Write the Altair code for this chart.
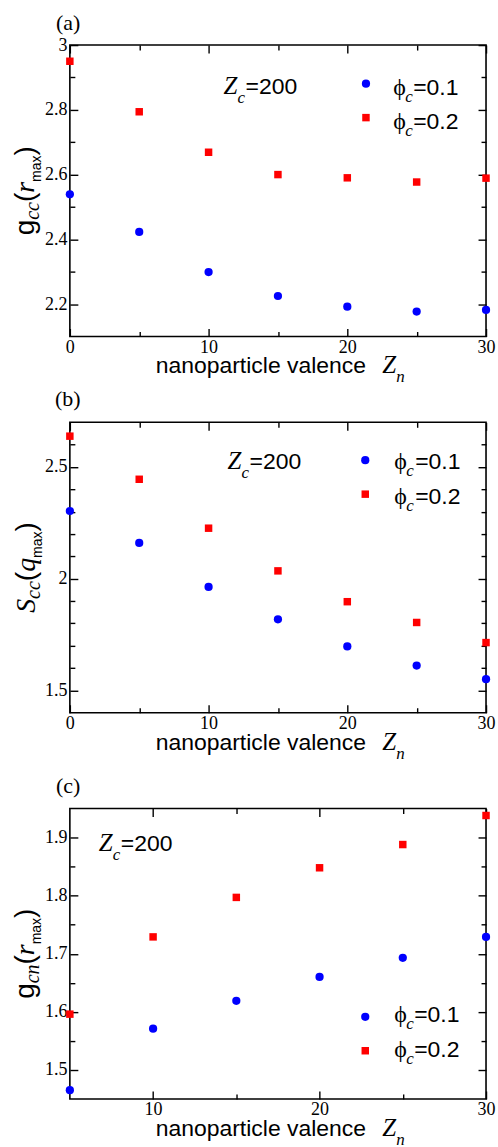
import altair as alt
import pandas as pd

# ---------------- data ----------------
series = ["ϕc=0.1", "ϕc=0.2"]
zn_ab = [0, 5, 10, 15, 20, 25, 30]
gcc_phi01 = [2.539, 2.423, 2.299, 2.225, 2.192, 2.177, 2.182]
gcc_phi02 = [2.950, 2.794, 2.669, 2.600, 2.590, 2.577, 2.589]
scc_phi01 = [2.303, 2.160, 1.963, 1.818, 1.697, 1.611, 1.550]
scc_phi02 = [2.638, 2.445, 2.226, 2.035, 1.897, 1.804, 1.714]
zn_c = [5, 10, 15, 20, 25, 30]
gcn_phi01 = [1.465, 1.571, 1.619, 1.660, 1.693, 1.729]
gcn_phi02 = [1.596, 1.729, 1.797, 1.848, 1.888, 1.938]

xmaj_ab = [0, 10, 20, 30]
xmin_ab = [5, 15, 25]
xmaj_c = [10, 20, 30]
xmin_c = [15, 25]
ymaj_a = [2.2, 2.4, 2.6, 2.8, 3]
ymin_a = [2.3, 2.5, 2.7, 2.9]
ymaj_b = [1.5, 2, 2.5]
ymin_b = [1.6, 1.7, 1.8, 1.9, 2.1, 2.2, 2.3, 2.4, 2.6]
ymaj_c = [1.5, 1.6, 1.7, 1.8, 1.9]
ymin_c = [1.55, 1.65, 1.75, 1.85]

SANS = "Liberation Sans"
SERIF = "Liberation Serif"
PHI_FONT = "'Liberation Serif', 'DejaVu Serif', serif"
COLORS = ["#0000ff", "#ff0000"]
SHAPES = ["circle", "square"]
SIZES = [68, 56]


def make_df(zn, v1, v2):
    rows = []
    for s, vals in zip(series, [v1, v2]):
        for z, v in zip(zn, vals):
            rows.append({"zn": z, "val": v, "series": s})
    return pd.DataFrame(rows)


dummy = pd.DataFrame({"d": [0]})


def txt(s, x, y, size, font=SANS, style="normal", angle=0):
    kw = dict(text=s, font=font, fontSize=size, fontStyle=style,
              align="left", baseline="alphabetic", color="black")
    if angle:
        kw["angle"] = angle
    return alt.Chart(dummy).mark_text(**kw).encode(x=alt.value(x), y=alt.value(y))


ADV = {
    (SANS, "normal"): {"g": .556, "(": .333, ")": .333, "m": .833, "a": .556, "x": .5},
    (SERIF, "italic"): {"c": .444, "n": .5, "r": .389, "S": .5, "q": .5},
}


def width(text, font, size, style):
    return sum(ADV[(font, style)][ch] for ch in text) * size


def ytitle(pieces, xbase, center):
    total = sum(width(t, f, s, st) for t, f, s, st, _ in pieces)
    y = center + total / 2
    out = []
    for t, f, s, st, shift in pieces:
        out.append(txt(t, xbase + shift, y, s, f, st, angle=270))
        y -= width(t, f, s, st)
    return out


def axis(orient, vals, ts, labels):
    kw = dict(orient=orient, values=vals, tickSize=ts, offset=-ts, domain=False,
              grid=False, ticks=True, tickColor="black", tickWidth=1.4,
              title=None, labels=labels)
    if labels:
        kw.update(labelFont=SERIF, labelFontSize=18, labelColor="black",
                  labelExpr="'' + datum.value", labelFlush=False, labelOverlap=False,
                  labelPadding=3 if orient in ("left", "right") else 2)
    return alt.Axis(**kw)


def xtitle(H, xs, zx, nx):
    return [
        txt("nanoparticle valence", xs, H + 37, 23),
        txt("Z", zx, H + 37, 25, SERIF, "italic"),
        txt("n", nx, H + 46, 17, SERIF, "italic"),
    ]


def zc_label(x, y):
    return [
        txt("Z", x, y, 25, SERIF, "italic"),
        txt("c", x + 14, y + 9, 17, SERIF, "italic"),
        txt("=200", x + 22, y, 23),
    ]


def legend(mx, my, tx, ty, vx):
    out = []
    for i, s in enumerate(series):
        out.append(alt.Chart(dummy).mark_point(shape=SHAPES[i], filled=True, size=SIZES[i],
                                               color=COLORS[i], opacity=1)
                   .encode(x=alt.value(mx), y=alt.value(my[i])))
        out.append(txt(s[0], tx, ty[i], 24, PHI_FONT))
        out.append(txt("c", tx + 12, ty[i] + 7, 17, SERIF, "italic"))
        out.append(txt(s[2:], vx, ty[i], 23))
    return out


def panel(df, xdom, ydom, xmaj, xmin, ymaj, ymin, W, H, annots):
    xs = alt.Scale(domain=xdom, nice=False, zero=False)
    ys = alt.Scale(domain=ydom, nice=False, zero=False)
    cfg = [("bottom", "left", xmin, ymin, 5, False),
           ("top", "right", xmaj, ymaj, 8, False),
           ("top", "right", xmin, ymin, 5, False),
           ("bottom", "left", xmaj, ymaj, 8, True)]
    layers = []
    for i, (xo, yo, xv, yv, ts, lab) in enumerate(cfg):
        visible = i == len(cfg) - 1
        layers.append(
            alt.Chart(df).mark_point(filled=True, opacity=1 if visible else 0)
            .encode(
                x=alt.X("zn:Q", scale=xs, axis=axis(xo, xv, ts, lab)),
                y=alt.Y("val:Q", scale=ys, axis=axis(yo, yv, ts, lab)),
                color=alt.Color("series:N", scale=alt.Scale(domain=series, range=COLORS), legend=None),
                shape=alt.Shape("series:N", scale=alt.Scale(domain=series, range=SHAPES), legend=None),
                size=alt.Size("series:O", scale=alt.Scale(domain=series, range=SIZES), legend=None),
            )
        )
    return (alt.layer(*layers, *annots)
            .resolve_axis(x="independent", y="independent")
            .properties(width=W, height=H))


def spacer(W, h):
    return (alt.Chart(dummy).mark_point(opacity=0)
            .encode(x=alt.value(0), y=alt.value(0))
            .properties(width=W, height=h,
                        view=alt.ViewBackground(stroke="transparent")))


W = 417
Ha, Hb, Hc = 292, 291, 291

ann_a = ([txt("(a)", -14, -15, 22, SERIF)]
         + ytitle([("g", SANS, 28, "normal", 0), ("cc", SERIF, 20, "italic", 5),
                   ("(", SANS, 28, "normal", 0), ("r", SERIF, 28, "italic", 0),
                   ("max", SANS, 14, "normal", 7), (")", SANS, 28, "normal", 0)], -36, Ha / 2)
         + xtitle(Ha, 86, 313, 327)
         + zc_label(154, 49)
         + legend(296.7, [38.7, 72.7], 324, [50, 84], 344))

ann_b = ([txt("(b)", -15, -16, 22, SERIF)]
         + ytitle([("S", SERIF, 28, "italic", 0), ("cc", SERIF, 20, "italic", 5),
                   ("(", SANS, 28, "normal", 0), ("q", SERIF, 28, "italic", 0),
                   ("max", SANS, 14, "normal", 7), (")", SANS, 28, "normal", 0)], -35, Hb / 2)
         + xtitle(Hb, 86, 313, 327)
         + zc_label(158, 47)
         + legend(296, [38, 72], 325, [47, 82], 346))

ann_c = ([txt("(c)", -14, -16, 22, SERIF)]
         + ytitle([("g", SANS, 28, "normal", 0), ("cn", SERIF, 20, "italic", 5),
                   ("(", SANS, 28, "normal", 0), ("r", SERIF, 28, "italic", 0),
                   ("max", SANS, 14, "normal", 7), (")", SANS, 28, "normal", 0)], -36, Hc / 2)
         + xtitle(Hc, 86, 313, 327)
         + zc_label(29, 43)
         + legend(296, [208.7, 242.7], 325, [213.7, 248.7], 345))

pa = panel(make_df(zn_ab, gcc_phi01, gcc_phi02), [0, 30], [2.1, 3.0],
           xmaj_ab, xmin_ab, ymaj_a, ymin_a, W, Ha, ann_a)
pb = panel(make_df(zn_ab, scc_phi01, scc_phi02), [0, 30], [1.4, 2.7],
           xmaj_ab, xmin_ab, ymaj_b, ymin_b, W, Hb, ann_b)
pc = panel(make_df(zn_c, gcn_phi01, gcn_phi02), [5, 30], [1.45, 1.95],
           xmaj_c, xmin_c, ymaj_c, ymin_c, W, Hc, ann_c)

# gaps between plot areas: 86 px (a-b) and 96 px (b-c)
chart = (alt.vconcat(pa, spacer(W, 2), pb, spacer(W, 12), pc, spacing=42, bounds="flush")
         .properties(padding={"left": 11, "top": 10, "right": 2, "bottom": 2},
                     background="white")
         .configure_view(stroke="black", strokeWidth=1.6))

chart.save("out.html", embed_options={"renderer": "svg", "actions": False})
